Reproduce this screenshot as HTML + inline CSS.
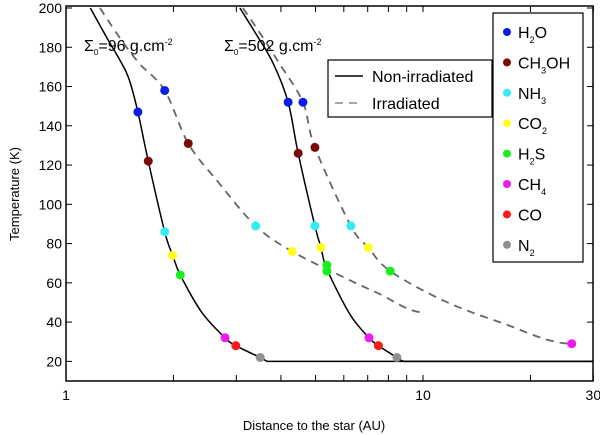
<!DOCTYPE html>
<html><head><meta charset="utf-8"><style>
html,body{margin:0;padding:0;background:#fff;}
svg{display:block;font-family:"Liberation Sans",sans-serif;}
</style></head><body>
<svg id="chart" width="600" height="435" viewBox="0 0 600 435"></svg>
<script>
const xTicks = [1, 10, 30];
const xMinor = [2,3,4,5,6,7,8,9,20];
const yTicks = [20,40,60,80,100,120,140,160,180,200];
const species = ["H2O","CH3OH","NH3","CO2","H2S","CH4","CO","N2"];
const speciesColors = ["#0a1ee6","#7a0a0a","#33eeee","#ffff1a","#1aee1a","#ee1aee","#ff1a1a","#909090"];
// curves: [AU, T]
const leftNonIrrAU = [1.17,1.30,1.42,1.50,1.59,1.70,1.89,1.99,2.09,2.40,2.79,2.99,3.50,3.68,30];
const leftNonIrrT  = [200,185,173,164,147,122,86,74,64,45,32,28,22,20,20];
const leftIrrAU = [1.245,1.40,1.60,1.89,2.20,2.65,3.40,4.30,5.97,7.43,10];
const leftIrrT  = [200,186,172,158,131,112,89,76,63,55,45];
const rightNonIrrAU = [3.07,3.40,3.80,4.19,4.47,4.98,5.18,5.38,6.24,7.06,7.50,8.45,8.84,30];
const rightNonIrrT  = [200,187,172,152,126,89,78,67,44,32,28,22,20,20];
const rightIrrAU = [3.13,3.50,3.95,4.61,4.98,6.28,7.02,8.09,11.4,16.4,26.1];
const rightIrrT  = [200,187,172,152,129,89,78,66,51,40,29];
// markers: [AU, T, speciesIndex]
const markAU = [1.59,1.70,1.89,1.99,2.09,2.79,2.99,3.50, 1.89,2.20,3.40,4.30, 4.19,4.47,4.98,5.18,5.38,5.38,7.06,7.50,8.45, 4.61,4.98,6.28,7.02,8.09,26.1];
const markT  = [147,122,86,74,64,32,28,22, 158,131,89,76, 152,126,89,78,69,66,32,28,22, 152,129,89,78,66,29];
const markS  = [0,1,2,3,4,5,6,7, 0,1,2,3, 0,1,2,3,4,4,5,6,7, 0,1,2,3,4,5];

const L=66,R=593,T0=8,B=381;
const xs = v => L + Math.log10(v)*357;
const ys = v => T0 + (200-v)/190*(B-T0);
const svg = document.getElementById('chart');
const NS='http://www.w3.org/2000/svg';
function mk(tag, attrs, parent){const e=document.createElementNS(NS,tag);for(const k in attrs)e.setAttribute(k,attrs[k]);(parent||svg).appendChild(e);return e;}

const clip = mk('clipPath',{id:'pc'}); mk('rect',{x:L,y:T0-2,width:R-L,height:B-T0+2},clip);

const ax = mk('rect',{x:L,y:6,width:R-L,height:B-6,fill:'none',stroke:'#000','stroke-width':1.5});



yTicks.forEach(v=>{
  const y=ys(v);
  mk('line',{x1:L,x2:L+6,y1:y,y2:y,stroke:'#000'});
  mk('line',{x1:R-6,x2:R,y1:y,y2:y,stroke:'#000'});
  const t=mk('text',{x:L-4,y:y+5,'text-anchor':'end','font-size':14});
  t.textContent=v;
  
  
});
xTicks.concat(xMinor).forEach(v=>{
  const x=xs(v);
  mk('line',{x1:x,x2:x,y1:B,y2:B-6,stroke:'#000'});
  mk('line',{x1:x,x2:x,y1:6,y2:12,stroke:'#000'});
});
xTicks.forEach(v=>{
  const t=mk('text',{x:xs(v),y:B+19,'text-anchor':'middle','font-size':14});
  t.textContent=v;
  
  
});
const xl=mk('text',{x:314,y:430,'text-anchor':'middle','font-size':13});
xl.textContent='Distance to the star  (AU)';


const yl=mk('text',{x:0,y:0,'text-anchor':'middle','font-size':13,transform:'translate(19,194) rotate(-90)'});
yl.textContent='Temperature (K)';



function pathFrom(au,t){
  const p=au.map((a,i)=>[xs(a),ys(t[i])]);
  let d='M'+p[0][0]+','+p[0][1];
  for(let i=0;i<p.length-1;i++){
    const p1=p[i],p2=p[i+1];
    if(p1[1]===p2[1]){d+=' L'+p2;continue;}
    const p0=p[Math.max(0,i-1)],p3=p[Math.min(p.length-1,i+2)];
    const c1=[p1[0]+(p2[0]-p0[0])/6,p1[1]+(p2[1]-p0[1])/6];
    let c2=[p2[0]-(p3[0]-p1[0])/6,p2[1]-(p3[1]-p1[1])/6];
    if(p3[1]===p2[1]) c2=[p2[0]-(p2[0]-p1[0])/3,p2[1]];
    d+=' C'+c1+' '+c2+' '+p2;
  }
  return d;
}
[[leftNonIrrAU,leftNonIrrT,false,'left-non-irradiated-line'],[rightNonIrrAU,rightNonIrrT,false,'right-non-irradiated-line'],
 [leftIrrAU,leftIrrT,true,'left-irradiated-line'],[rightIrrAU,rightIrrT,true,'right-irradiated-line']].forEach(c=>{
  const e=mk('path',{d:pathFrom(c[0],c[1]),fill:'none',stroke:c[2]?'#666':'#000','stroke-width':c[2]?1.8:1.5,'stroke-dasharray':c[2]?'8,6':'none','clip-path':'url(#pc)'});
  
  
});
markAU.forEach((a,i)=>{
  const e=mk('circle',{cx:xs(a),cy:ys(markT[i]),r:4.5,fill:speciesColors[markS[i]]});
  
  
});

function sigma(x,val){
  const t=mk('text',{x:x,y:51,'font-size':16});
  t.innerHTML='Σ<tspan font-size="8" dy="4">0</tspan><tspan dy="-4">='+val+' g.cm</tspan><tspan font-size="9" dy="-6">-2</tspan>';
  
  
}
sigma(84,'96'); sigma(224,'502');

const lg=mk('g',{});


mk('rect',{x:328,y:60,width:164,height:57,fill:'#fff',stroke:'#000','stroke-width':1.2},lg);
mk('line',{x1:335,x2:363,y1:76,y2:76,stroke:'#000','stroke-width':1.5},lg);
mk('line',{x1:335,x2:363,y1:103,y2:103,stroke:'#888','stroke-width':1.5,'stroke-dasharray':'8,6'},lg);
const t1=mk('text',{x:372,y:82,'font-size':16},lg); t1.textContent='Non-irradiated';
const t2=mk('text',{x:372,y:109,'font-size':16},lg); t2.textContent='Irradiated';

const sg=mk('g',{});


mk('rect',{x:493,y:13,width:90,height:249,fill:'#fff',stroke:'#000','stroke-width':1.2},sg);
const labels=['H<tspan font-size="9" dy="5">2</tspan><tspan dy="-5">O</tspan>','CH<tspan font-size="9" dy="5">3</tspan><tspan dy="-5">OH</tspan>','NH<tspan font-size="9" dy="5">3</tspan>','CO<tspan font-size="9" dy="5">2</tspan>','H<tspan font-size="9" dy="5">2</tspan><tspan dy="-5">S</tspan>','CH<tspan font-size="9" dy="5">4</tspan>','CO','N<tspan font-size="9" dy="5">2</tspan>'];
species.forEach((s,i)=>{
  const y=32+i*30.4;
  const g=mk('g',{},sg);
  
  
  mk('circle',{cx:507,cy:y,r:4,fill:speciesColors[i]},g);
  const t=mk('text',{x:518,y:y+6,'font-size':16},g);
  t.innerHTML=labels[i];
});
</script>
</body></html>
